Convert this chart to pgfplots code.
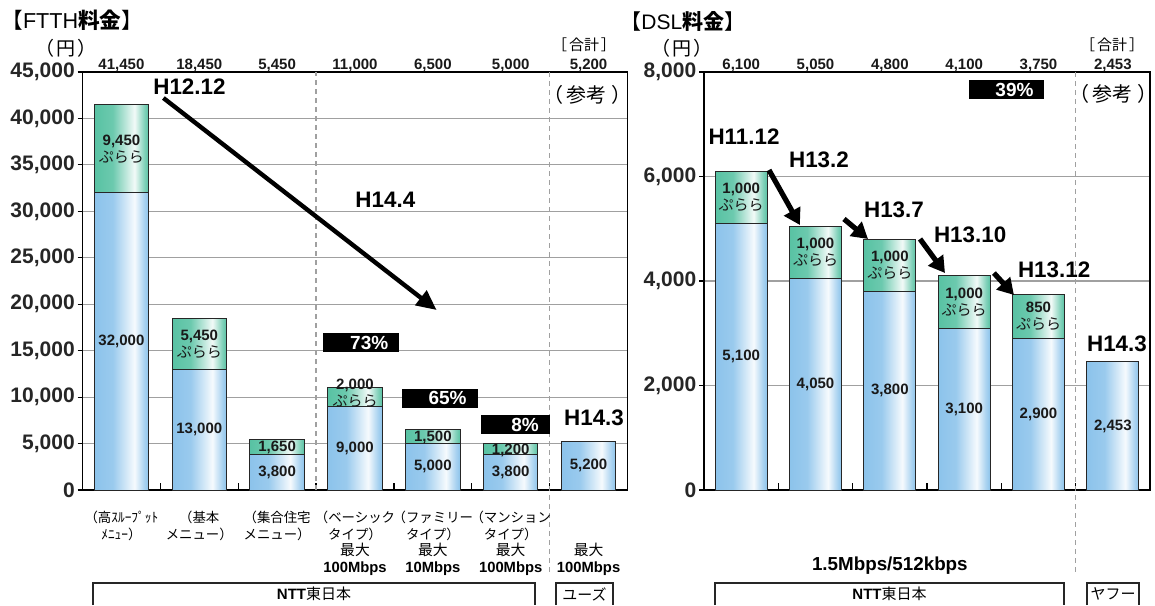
\documentclass[border=0pt]{standalone}
\usepackage{pgfplots}
\pgfplotsset{compat=1.18}
\usetikzlibrary{arrows.meta}
\usepackage{fontspec}
\setmainfont{Liberation Sans}
\newfontfamily\jp{Noto Sans CJK JP}

\newcommand\fs[2]{\fontsize{#1}{#2}\selectfont}

% bar colours and their highlighted (cylindrical) shading
\definecolor{barblue}{RGB}{140,195,235}
\definecolor{bargreen}{RGB}{88,194,163}
\definecolor{gridgray}{RGB}{160,160,160}
\colorlet{blueA}{barblue!88!white}
\colorlet{blueHi}{barblue!8!white}
\colorlet{blueB}{barblue!75!white}
\colorlet{greenA}{bargreen!88!white}
\colorlet{greenHi}{bargreen!8!white}
\colorlet{greenB}{bargreen!75!white}
\pgfdeclarehorizontalshading{blueshade}{100bp}{color(0bp)=(barblue); color(25bp)=(barblue);
  color(42bp)=(blueA); color(62bp)=(blueHi); color(71bp)=(blueB); color(75bp)=(barblue); color(100bp)=(barblue)}
\pgfdeclarehorizontalshading{greenshade}{100bp}{color(0bp)=(bargreen); color(25bp)=(bargreen);
  color(42bp)=(greenA); color(62bp)=(greenHi); color(71bp)=(greenB); color(75bp)=(bargreen); color(100bp)=(bargreen)}

\pgfplotsset{
  seg/.style={ybar, bar width=0.7, bar shift=0pt, draw=black!85, line width=0.5pt, shade, forget plot},
  gseg/.style={seg, shading=greenshade},
  bseg/.style={seg, shading=blueshade},
  priceaxis/.style={
    scale only axis, height=209pt, xmin=0.5, ymin=0,
    xtick=\empty, ytick pos=left, tick align=outside, major tick length=2.5pt,
    ymajorgrids, grid style={gridgray, line width=0.6pt},
    axis line style={black, line width=0.6pt},
    ytick style={black, line width=0.6pt},
    yticklabel style={font=\bfseries\fs{10.5}{10.5}, text=black!85, inner xsep=1.2pt},
    /pgf/number format/assume math mode=true,
    /pgf/number format/1000 sep={,},
    scaled y ticks=false, clip=false},
}
\tikzset{
  inlab/.style={font=\bfseries\fs{7.5}{8.5}, text=black!90, align=center, inner sep=0pt},
  total/.style={font=\bfseries\fs{7.5}{7.5}, text=black!90, anchor=base, yshift=1.5pt, inner sep=0pt},
  era/.style={font=\bfseries\fs{11.2}{11.2}, inner sep=0pt},
  pct/.style={fill=black, text=white, font=\bfseries\fs{9.5}{9.5}, minimum height=9.5pt,
    inner xsep=5.5pt, inner ysep=0pt, align=right},
  catlab/.style={anchor=north, yshift=-9.5pt, align=center, inner sep=0pt, font=\jp\fs{6.7}{8.3}},
  sep/.style={gridgray, line width=0.6pt, dash pattern=on 2.5pt off 2pt},
  bigarrow/.style={line width=2.2pt, -{Triangle[length=10pt,width=9pt]}},
  smallarrow/.style={line width=2.6pt, -{Triangle[length=8pt,width=9pt]}},
  note/.style={inner sep=0pt, font=\jp\fs{10}{10}},
}
\newcommand\ppl{{\jp\mdseries ぷらら}}
\newcommand\mb[1]{{\rmfamily\bfseries\fs{7.4}{8.3}#1}}
\newcommand\md[1]{{\fs{7.4}{8.3}#1}}
\newcommand\catlabel[2]{\node[catlab] at (axis cs:#1,0) {\rule{0pt}{6.5pt}#2};}
\newcommand\xtk[1]{\draw[black, line width=0.6pt] (axis cs:#1,0) -- ([yshift=3.5pt]axis cs:#1,0);}
% bracketed note; the closing full-width paren's empty half is trimmed
\newcommand\sankou{（\hspace{1.5pt}参考\hspace{2.5pt}）\hspace*{-5pt}}

\begin{document}
\begin{tikzpicture}
\useasboundingbox (0,0) rectangle (577.5pt,302.5pt);

% ---------------- FTTH ----------------
\begin{axis}[priceaxis, at={(41.25pt,57.5pt)}, anchor=south west,
  width=272.5pt, xmax=7.5, ymax=45000, ytick={0,5000,...,45000}]
% totals (green, full height) and base charge (blue)
\addplot[gseg] coordinates {(1,41450)};
\addplot[bseg] coordinates {(1,32000)};
\addplot[gseg] coordinates {(2,18450)};
\addplot[bseg] coordinates {(2,13000)};
\addplot[gseg] coordinates {(3,5450)};
\addplot[bseg] coordinates {(3,3800)};
\addplot[gseg] coordinates {(4,11000)};
\addplot[bseg] coordinates {(4,9000)};
\addplot[gseg] coordinates {(5,6500)};
\addplot[bseg] coordinates {(5,5000)};
\addplot[gseg] coordinates {(6,5000)};
\addplot[bseg] coordinates {(6,3800)};
\addplot[bseg] coordinates {(7,5200)};

\xtk{1.5}\xtk{2.5}\xtk{3.5}\xtk{4.5}\xtk{5.5}\xtk{6.5}
\draw[sep] (axis cs:3.5,0) -- (axis cs:3.5,45000);
\draw[sep] (axis cs:6.5,45000) -- ([yshift=-42.5pt]axis cs:6.5,0);

% values inside the bars
\node[inlab] at (axis cs:1,16000) {32,000};
\node[inlab] at (axis cs:1,36725) {9,450\\\ppl};
\node[inlab] at (axis cs:2,6500) {13,000};
\node[inlab] at (axis cs:2,15725) {5,450\\\ppl};
\node[inlab] at (axis cs:3,1900) {3,800};
\node[inlab] at (axis cs:3,4550) {1,650};
\node[inlab] at (axis cs:4,4500) {9,000};
\node[inlab] at (axis cs:4,10400) {2,000\\\ppl};
\node[inlab] at (axis cs:5,2500) {5,000};
\node[inlab] at (axis cs:5,5700) {1,500};
\node[inlab] at (axis cs:6,1900) {3,800};
\node[inlab] at (axis cs:6,4300) {1,200};
\node[inlab] at (axis cs:7,2600) {5,200};

% totals above the frame
\node[total] at (axis cs:1,45000) {41,450};
\node[total] at (axis cs:2,45000) {18,450};
\node[total] at (axis cs:3,45000) {5,450};
\node[total] at (axis cs:4,45000) {11,000};
\node[total] at (axis cs:5,45000) {6,500};
\node[total] at (axis cs:6,45000) {5,000};
\node[total] at (axis cs:7,45000) {5,200};

% annotations
\node[era] at (axis cs:1.874,43385) {H12.12};
\draw[bigarrow] (axis cs:1.539,42200) -- (axis cs:5.048,19378);
\node[era] at (axis cs:4.39,31220) {H14.4};
\node[era] at (axis cs:7.07,7751) {H14.3};
\node[pct, text width=27pt] at (axis cs:4.08,15879) {73\%};
\node[pct, text width=27pt] at (axis cs:5.087,9904) {65\%};
\node[pct, text width=23.5pt] at (axis cs:6.06,6998) {8\%};
\node[note] at (axis cs:6.92,42523) {\sankou};

% category labels
\catlabel{1}{（高ｽﾙｰﾌﾟｯﾄ\\ﾒﾆｭｰ）}
\catlabel{2}{（基本\\メニュー）}
\catlabel{3}{（集合住宅\\メニュー）}
\catlabel{4}{（ベーシック\\タイプ）\\\md{最大}\\\mb{100Mbps}}
\catlabel{5}{（ファミリー\\タイプ）\\\md{最大}\\\mb{10Mbps}}
\catlabel{6}{（マンション\\タイプ）\\\md{最大}\\\mb{100Mbps}}
\catlabel{7}{\\\\\md{最大}\\\mb{100Mbps}}
\end{axis}

% ---------------- DSL ----------------
\begin{axis}[priceaxis, at={(352pt,57.5pt)}, anchor=south west,
  width=223pt, xmax=6.5, ymax=8000, ytick={0,2000,...,8000}]
\addplot[gseg] coordinates {(1,6100)};
\addplot[bseg] coordinates {(1,5100)};
\addplot[gseg] coordinates {(2,5050)};
\addplot[bseg] coordinates {(2,4050)};
\addplot[gseg] coordinates {(3,4800)};
\addplot[bseg] coordinates {(3,3800)};
\addplot[gseg] coordinates {(4,4100)};
\addplot[bseg] coordinates {(4,3100)};
\addplot[gseg] coordinates {(5,3750)};
\addplot[bseg] coordinates {(5,2900)};
\addplot[bseg] coordinates {(6,2453)};

\xtk{1.5}\xtk{2.5}\xtk{3.5}\xtk{4.5}\xtk{5.5}
\draw[sep] (axis cs:5.5,8000) -- ([yshift=-42.5pt]axis cs:5.5,0);

\node[inlab] at (axis cs:1,2550) {5,100};
\node[inlab] at (axis cs:1,5600) {1,000\\\ppl};
\node[inlab] at (axis cs:2,2025) {4,050};
\node[inlab] at (axis cs:2,4550) {1,000\\\ppl};
\node[inlab] at (axis cs:3,1900) {3,800};
\node[inlab] at (axis cs:3,4300) {1,000\\\ppl};
\node[inlab] at (axis cs:4,1550) {3,100};
\node[inlab] at (axis cs:4,3600) {1,000\\\ppl};
\node[inlab] at (axis cs:5,1450) {2,900};
\node[inlab] at (axis cs:5,3325) {850\\\ppl};
\node[inlab] at (axis cs:6,1226) {2,453};

\node[total] at (axis cs:1,8000) {6,100};
\node[total] at (axis cs:2,8000) {5,050};
\node[total] at (axis cs:3,8000) {4,800};
\node[total] at (axis cs:4,8000) {4,100};
\node[total] at (axis cs:5,8000) {3,750};
\node[total] at (axis cs:6,8000) {2,453};

\node[era] at (axis cs:1.038,6756) {H11.12};
\node[era] at (axis cs:2.047,6316) {H13.2};
\node[era] at (axis cs:3.056,5359) {H13.7};
\node[era] at (axis cs:4.08,4880) {H13.10};
\node[era] at (axis cs:5.21,4211) {H13.12};
\node[era] at (axis cs:6.056,2794) {H14.3};
\draw[smallarrow] (axis cs:1.374,6124) -- (axis cs:1.79,5072);
\draw[smallarrow] (axis cs:2.383,5187) -- (axis cs:2.706,4804);
\draw[smallarrow] (axis cs:3.406,4804) -- (axis cs:3.742,4153);
\draw[smallarrow] (axis cs:4.40,4153) -- (axis cs:4.67,3732);
\node[pct, text width=26.5pt] at (axis cs:4.576,7665) {39\%};
\node[note] at (axis cs:5.94,7579) {\sankou};

\node[font=\bfseries\fs{9.4}{9.4}, inner sep=0pt] at ([yshift=-38pt]axis cs:3,0) {1.5Mbps/512kbps};
\end{axis}

% titles and units
\node[anchor=west, inner sep=0pt, font=\fs{10.8}{10.8}] at (0.5pt,292.5pt) {{\jp 【}FTTH{\jp\bfseries 料金}{\jp 】}};
\node[anchor=west, inner sep=0pt, font=\fs{10.5}{10.5}] at (310pt,292pt) {{\jp 【}DSL{\jp\bfseries 料金}{\jp 】}};
\node[inner sep=0pt, font=\jp\fs{9.5}{9.5}] at (33pt,278.5pt) {（\hspace{1pt}円\hspace{1pt}）};
\node[inner sep=0pt, font=\jp\fs{9.5}{9.5}] at (341pt,278.5pt) {（\hspace{1pt}円\hspace{1pt}）};
\node[inner sep=0pt, font=\jp\fs{7.5}{7.5}] at (292pt,280pt) {［\hspace{1pt}合計\hspace{1pt}］};
\node[inner sep=0pt, font=\jp\fs{7.5}{7.5}] at (556pt,280pt) {［\hspace{1pt}合計\hspace{1pt}］};

% provider boxes along the bottom
\draw[black!85, line width=0.6pt] (46.5pt,0) |- (267.5pt,11pt) -- (267.5pt,0);
\node[inner sep=0pt, font=\fs{7.5}{7.5}] at (157pt,5.5pt) {\textbf{NTT}{\jp 東日本}};
\draw[black!85, line width=0.6pt] (278pt,0) |- (306.5pt,11pt) -- (306.5pt,0);
\node[inner sep=0pt, font=\jp\fs{7.5}{7.5}] at (292.25pt,5.5pt) {ユーズ};
\draw[black!85, line width=0.6pt] (357.5pt,0) |- (532pt,11pt) -- (532pt,0);
\node[inner sep=0pt, font=\fs{7.5}{7.5}] at (444.75pt,5.5pt) {\textbf{NTT}{\jp 東日本}};
\draw[black!85, line width=0.6pt] (543.5pt,0) |- (569.5pt,11pt) -- (569.5pt,0);
\node[inner sep=0pt, font=\jp\fs{7.5}{7.5}] at (556.5pt,5.5pt) {ヤフー};
\end{tikzpicture}
\end{document}
